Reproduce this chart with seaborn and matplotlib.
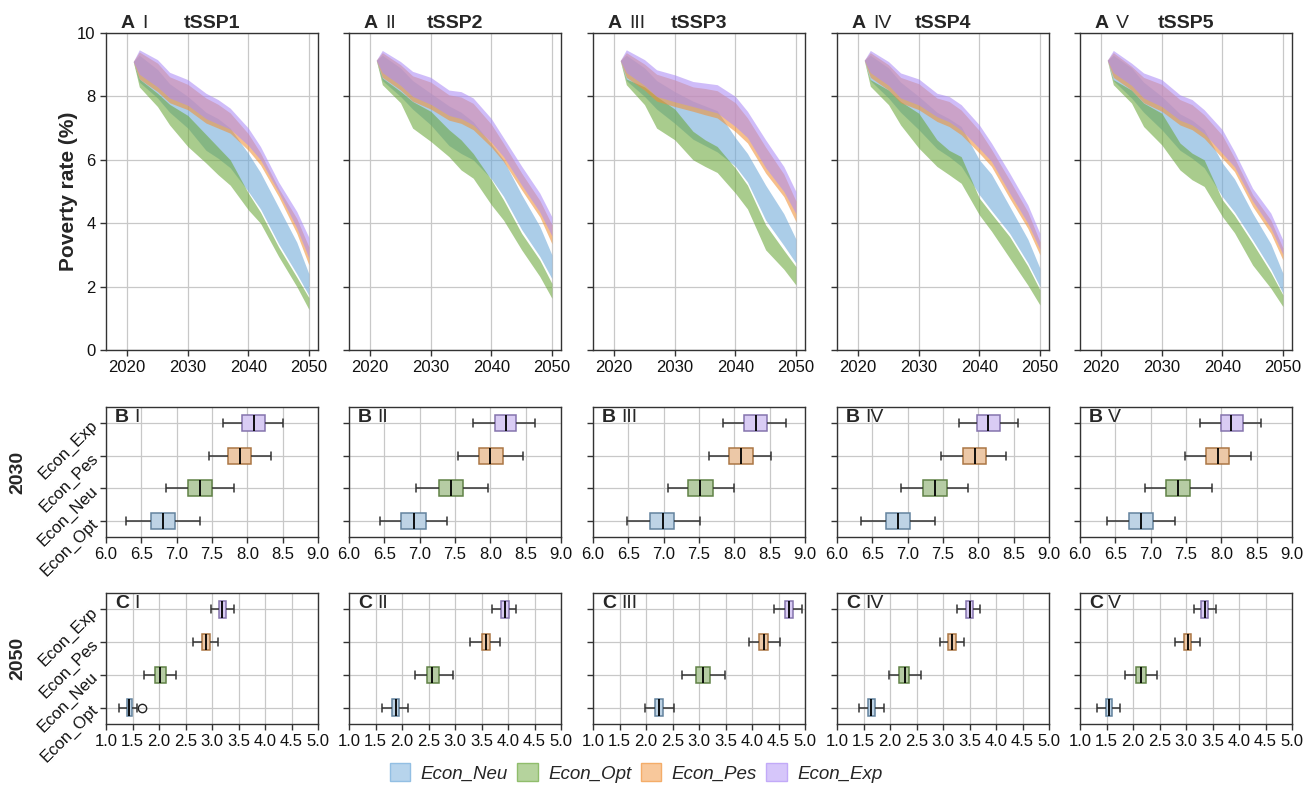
import numpy as np
import pandas as pd
import matplotlib
matplotlib.use("Agg")
import matplotlib.pyplot as plt
import seaborn as sns
from matplotlib.patches import Patch
from matplotlib.colors import to_rgb

# ---------------- data ----------------
YEARS = [2021, 2022, 2025, 2027, 2030, 2033, 2035, 2037, 2040, 2042, 2045, 2048, 2050]
PANELS = ["tSSP1", "tSSP2", "tSSP3", "tSSP4", "tSSP5"]
NUMERALS = ["I", "II", "III", "IV", "V"]
SCEN = ["Econ_Neu", "Econ_Opt", "Econ_Pes", "Econ_Exp"]

neu_low = [
    [9.10, 8.45, 7.95, 7.50, 7.00, 6.30, 6.05, 5.75, 5.00, 4.45, 3.35, 2.40, 1.72],
    [9.14, 8.50, 8.00, 7.60, 7.10, 6.45, 6.20, 6.00, 5.40, 4.85, 3.80, 2.95, 2.25],
    [9.13, 8.50, 8.00, 7.60, 7.15, 6.65, 6.45, 6.25, 5.80, 5.30, 4.10, 3.30, 2.74],
    [9.14, 8.50, 7.95, 7.50, 6.95, 6.35, 6.10, 5.80, 4.90, 4.40, 3.68, 2.75, 2.00],
    [9.14, 8.50, 7.95, 7.50, 6.95, 6.30, 6.05, 5.75, 4.84, 4.35, 3.47, 2.55, 1.79],
]
neu_high = [
    [9.10, 9.30, 8.85, 8.40, 8.00, 7.50, 7.30, 7.00, 6.20, 5.60, 4.50, 3.40, 2.40],
    [9.14, 9.30, 8.90, 8.50, 8.10, 7.70, 7.50, 7.20, 6.50, 6.00, 4.90, 3.90, 3.00],
    [9.13, 9.30, 8.90, 8.50, 8.15, 7.85, 7.70, 7.55, 6.70, 6.20, 5.20, 4.30, 3.50],
    [9.14, 9.30, 8.90, 8.45, 8.00, 7.50, 7.30, 7.05, 6.00, 5.55, 4.53, 3.50, 2.58],
    [9.14, 9.30, 8.90, 8.45, 8.00, 7.45, 7.25, 6.95, 5.90, 5.40, 4.32, 3.35, 2.42],
]
opt_low = [
    [9.10, 8.30, 7.68, 7.10, 6.42, 5.90, 5.53, 5.20, 4.42, 4.00, 2.95, 2.00, 1.28],
    [9.14, 8.37, 7.80, 7.00, 6.58, 6.10, 5.68, 5.42, 4.58, 4.10, 3.16, 2.32, 1.63],
    [9.13, 8.37, 7.74, 7.00, 6.63, 6.00, 5.79, 5.60, 4.95, 4.45, 3.16, 2.55, 2.05],
    [9.14, 8.32, 7.74, 7.10, 6.37, 5.79, 5.53, 5.26, 4.26, 3.75, 2.90, 2.05, 1.42],
    [9.14, 8.37, 7.79, 7.05, 6.47, 5.68, 5.37, 5.16, 4.21, 3.70, 2.68, 1.95, 1.37],
]
opt_high = [
    [9.10, 8.55, 8.10, 7.75, 7.40, 6.80, 6.40, 6.00, 4.95, 4.35, 3.25, 2.30, 1.65],
    [9.14, 8.58, 8.16, 7.84, 7.53, 6.95, 6.63, 6.20, 5.37, 4.74, 3.68, 2.84, 2.10],
    [9.13, 8.55, 8.30, 8.00, 7.60, 6.90, 6.63, 6.42, 5.74, 5.20, 3.95, 3.15, 2.63],
    [9.14, 8.53, 8.20, 7.84, 7.47, 6.63, 6.30, 6.10, 4.79, 4.30, 3.58, 2.65, 1.90],
    [9.14, 8.53, 8.20, 7.79, 7.47, 6.53, 6.21, 6.00, 4.74, 4.25, 3.37, 2.45, 1.74],
]
pes_low = [
    [9.10, 8.55, 8.15, 7.80, 7.58, 7.16, 7.00, 6.84, 6.30, 5.84, 4.84, 3.68, 2.68],
    [9.14, 8.60, 8.20, 7.85, 7.60, 7.25, 7.15, 6.95, 6.40, 5.95, 5.05, 4.20, 3.35],
    [9.13, 8.60, 8.20, 7.85, 7.68, 7.53, 7.42, 7.32, 6.89, 6.53, 5.58, 4.84, 4.05],
    [9.14, 8.60, 8.20, 7.80, 7.58, 7.21, 7.05, 6.79, 6.21, 5.79, 4.79, 3.84, 3.00],
    [9.14, 8.60, 8.20, 7.80, 7.53, 7.10, 6.95, 6.68, 6.05, 5.63, 4.53, 3.68, 2.84],
]
pes_high = [
    [9.10, 9.40, 9.05, 8.62, 8.38, 7.95, 7.75, 7.48, 6.82, 6.22, 5.10, 4.15, 3.25],
    [9.14, 9.38, 9.00, 8.65, 8.45, 8.05, 7.98, 7.78, 7.12, 6.52, 5.58, 4.72, 3.95],
    [9.13, 9.38, 9.02, 8.70, 8.52, 8.30, 8.25, 8.18, 7.80, 7.32, 6.40, 5.55, 4.70],
    [9.14, 9.38, 9.00, 8.60, 8.40, 7.95, 7.84, 7.57, 6.92, 6.33, 5.36, 4.36, 3.42],
    [9.14, 9.38, 8.95, 8.60, 8.38, 7.90, 7.74, 7.42, 6.77, 6.06, 4.90, 4.10, 3.22],
]
exp_low = [
    [9.10, 8.70, 8.30, 7.95, 7.72, 7.30, 7.13, 6.97, 6.45, 6.00, 4.98, 3.85, 2.90],
    [9.14, 8.75, 8.35, 8.00, 7.75, 7.40, 7.30, 7.10, 6.55, 6.10, 5.20, 4.35, 3.60],
    [9.13, 8.75, 8.35, 8.00, 7.83, 7.68, 7.58, 7.48, 7.05, 6.70, 5.75, 5.00, 4.30],
    [9.14, 8.75, 8.35, 7.95, 7.73, 7.36, 7.20, 6.94, 6.36, 5.95, 4.95, 4.00, 3.18],
    [9.14, 8.75, 8.35, 7.95, 7.68, 7.25, 7.10, 6.83, 6.20, 5.78, 4.70, 3.85, 3.02],
]
exp_high = [
    [9.10, 9.47, 9.16, 8.76, 8.53, 8.10, 7.90, 7.63, 7.00, 6.42, 5.30, 4.37, 3.55],
    [9.14, 9.45, 9.10, 8.79, 8.60, 8.20, 8.15, 7.95, 7.30, 6.70, 5.80, 4.95, 4.20],
    [9.13, 9.47, 9.16, 8.84, 8.68, 8.47, 8.42, 8.37, 8.00, 7.53, 6.63, 5.79, 5.00],
    [9.14, 9.45, 9.10, 8.74, 8.55, 8.10, 8.00, 7.74, 7.10, 6.53, 5.58, 4.58, 3.68],
    [9.14, 9.45, 9.05, 8.74, 8.53, 8.05, 7.90, 7.58, 6.95, 6.26, 5.10, 4.32, 3.47],
]

# box plot rows (top to bottom) and five-number summaries [low whisker, Q1, median, Q3, high whisker]
BOX_ROWS = ["Econ_Exp", "Econ_Pes", "Econ_Neu", "Econ_Opt"]
box2030 = {
    "Econ_Exp": [[7.65, 7.93, 8.10, 8.25, 8.51], [7.76, 8.06, 8.22, 8.36, 8.63], [7.84, 8.14, 8.30, 8.46, 8.73],
                 [7.73, 7.98, 8.14, 8.30, 8.56], [7.70, 7.99, 8.14, 8.30, 8.56]],
    "Econ_Pes": [[7.46, 7.73, 7.89, 8.05, 8.33], [7.54, 7.84, 8.00, 8.18, 8.46], [7.64, 7.93, 8.09, 8.26, 8.52],
                 [7.47, 7.78, 7.95, 8.11, 8.39], [7.48, 7.78, 7.95, 8.11, 8.42]],
    "Econ_Neu": [[6.85, 7.16, 7.33, 7.50, 7.81], [6.95, 7.28, 7.44, 7.62, 7.96], [7.06, 7.35, 7.51, 7.70, 8.00],
                 [6.90, 7.22, 7.39, 7.56, 7.85], [6.92, 7.22, 7.38, 7.55, 7.87]],
    "Econ_Opt": [[6.29, 6.64, 6.80, 6.97, 7.33], [6.44, 6.74, 6.92, 7.09, 7.38], [6.48, 6.81, 6.99, 7.15, 7.51],
                 [6.34, 6.70, 6.86, 7.03, 7.38], [6.38, 6.70, 6.86, 7.03, 7.35]],
}
box2050 = {
    "Econ_Exp": [[2.99, 3.13, 3.19, 3.26, 3.41], [3.69, 3.87, 3.94, 4.02, 4.16], [4.42, 4.62, 4.69, 4.77, 4.95],
                 [3.27, 3.44, 3.51, 3.56, 3.70], [3.15, 3.28, 3.36, 3.42, 3.56]],
    "Econ_Pes": [[2.64, 2.82, 2.89, 2.96, 3.11], [3.29, 3.50, 3.58, 3.66, 3.85], [3.94, 4.14, 4.22, 4.31, 4.53],
                 [2.94, 3.10, 3.17, 3.24, 3.40], [2.79, 2.97, 3.03, 3.10, 3.26]],
    "Econ_Neu": [[1.71, 1.93, 2.02, 2.13, 2.32], [2.25, 2.47, 2.57, 2.69, 2.97], [2.67, 2.94, 3.07, 3.20, 3.49],
                 [1.99, 2.17, 2.28, 2.36, 2.58], [1.85, 2.06, 2.15, 2.24, 2.45]],
    "Econ_Opt": [[1.25, 1.39, 1.44, 1.49, 1.58], [1.63, 1.81, 1.88, 1.94, 2.11], [1.98, 2.17, 2.25, 2.33, 2.52],
                 [1.42, 1.59, 1.64, 1.71, 1.88], [1.33, 1.49, 1.54, 1.60, 1.75]],
}
fliers2050 = {("Econ_Opt", 0): [1.68]}

B_TICKS = [6.0, 6.5, 7.0, 7.5, 8.0, 8.5, 9.0]
C_TICKS = [1.0, 1.5, 2.0, 2.5, 3.0, 3.5, 4.0, 4.5, 5.0]
A_XTICKS = [2020, 2030, 2040, 2050]
A_YTICKS = [0, 2, 4, 6, 8, 10]

# ---------------- style ----------------
BASE = {"Econ_Neu": "#6fa9d9", "Econ_Opt": "#6ba73b", "Econ_Pes": "#f19137", "Econ_Exp": "#ad8df5"}
BOX_COLORS = {"Econ_Exp": BASE["Econ_Exp"], "Econ_Pes": BASE["Econ_Pes"],
              "Econ_Neu": BASE["Econ_Opt"], "Econ_Opt": BASE["Econ_Neu"]}


def light(c, a=0.5):
    r = np.array(to_rgb(c))
    return tuple(1 - a + a * r)


def edge(c):
    r = np.array(to_rgb(c))
    return tuple(0.55 * r + 0.45 * np.array(to_rgb("#555555")))


sns.set_theme(style="whitegrid", rc={
    "axes.edgecolor": "#333333", "axes.linewidth": 1.0,
    "grid.color": "#c8c8c8", "grid.linewidth": 0.9,
    "xtick.bottom": True, "ytick.left": True,
    "xtick.major.size": 4, "ytick.major.size": 4,
    "xtick.major.width": 1.0, "ytick.major.width": 1.0,
    "xtick.color": "#333333", "ytick.color": "#333333",
    "xtick.labelcolor": "#111111", "ytick.labelcolor": "#111111",
    "xtick.labelsize": 12, "ytick.labelsize": 12,
})
plt.rcParams["font.family"] = ["Liberation Sans", "DejaVu Sans"]

W, H = 1312, 794
fig = plt.figure(figsize=(W / 100, H / 100), dpi=100)

LEFTS = [106, 349, 593, 837, 1080]
AW = 212


def add_ax(left, top, bottom):
    return fig.add_axes([left / W, 1 - bottom / H, AW / W, (bottom - top) / H])


# ---- row A ----
bounds = {"Econ_Neu": (neu_low, neu_high), "Econ_Opt": (opt_low, opt_high),
          "Econ_Pes": (pes_low, pes_high), "Econ_Exp": (exp_low, exp_high)}
AH = 317
for i, panel in enumerate(PANELS):
    ax = add_ax(LEFTS[i], 33, 350)
    rows = []
    for s in SCEN:
        lo, hi = bounds[s]
        for y, a, b in zip(YEARS, lo[i], hi[i]):
            rows.append((y, a, s))
            rows.append((y, b, s))
    df = pd.DataFrame(rows, columns=["year", "rate", "scen"])
    sns.lineplot(data=df, x="year", y="rate", hue="scen", hue_order=SCEN, palette=BASE,
                 errorbar=("pi", 100), err_kws={"alpha": 0.58, "linewidth": 0},
                 linewidth=0, legend=False, ax=ax)
    ax.set_xlim(2016.5, 2051.5)
    ax.set_ylim(0, 10)
    ax.set_xticks(A_XTICKS)
    ax.set_yticks(A_YTICKS)
    ax.set_xlabel("")
    ax.set_ylabel("")
    if i > 0:
        ax.set_yticklabels([])
    ty = 1 + 5 / AH
    ax.text(0.5, ty, panel, transform=ax.transAxes, fontsize=14, fontweight="bold",
            va="baseline", ha="center")
    ax.text(15 / AW, ty, "A", transform=ax.transAxes, fontsize=14,
            fontweight="bold", va="baseline", ha="left")
    ax.text(36 / AW, ty, NUMERALS[i], transform=ax.transAxes, fontsize=14,
            va="baseline", ha="left")
    for sp in ax.spines.values():
        sp.set_visible(True)


# ---- rows B and C ----
def box_panel(ax, stats, i, fliers, ticks, letter):
    rows = []
    for s in BOX_ROWS:
        lo, q1, md, q3, hi = stats[s][i]
        fl = fliers.get((s, i), [])
        if fl:
            vals = [lo, q1, q1, q1, md, md, q3, q3, hi] + fl
        else:
            vals = [lo, q1, q1, q1, md, q3, q3, q3, hi]
        rows += [(v, s) for v in vals]
    df = pd.DataFrame(rows, columns=["val", "scen"])
    pal = {s: light(BOX_COLORS[s], 0.5) for s in BOX_ROWS}
    sns.boxplot(data=df, x="val", y="scen", hue="scen", order=BOX_ROWS, hue_order=BOX_ROWS,
                palette=pal, orient="h", width=0.5, linewidth=1.1, linecolor="#333333",
                medianprops={"color": "black", "linewidth": 1.3},
                flierprops={"marker": "o", "markerfacecolor": "none", "markeredgecolor": "#222222",
                            "markersize": 6},
                legend=False, ax=ax)
    for p, s in zip(ax.patches, BOX_ROWS):
        p.set_edgecolor(edge(BOX_COLORS[s]))
    ax.set_xlim(ticks[0], ticks[-1])
    ax.set_xticks(ticks)
    ax.set_xticklabels([f"{t:.1f}" for t in ticks])
    ax.set_xlabel("")
    ax.set_ylabel("")
    ax.grid(True, axis="both")
    ax.set_axisbelow(True)
    ax.set_yticks(range(4))
    if i == 0:
        ax.set_yticklabels(BOX_ROWS, rotation=45, ha="right", va="center", rotation_mode="anchor")
    else:
        ax.set_yticklabels([])
    ax.text(9 / AW, 1 - 15 / 130, letter, transform=ax.transAxes, fontsize=14,
            fontweight="bold", va="baseline", ha="left")
    ax.text(28 / AW, 1 - 15 / 130, NUMERALS[i], transform=ax.transAxes, fontsize=14,
            va="baseline", ha="left")
    for sp in ax.spines.values():
        sp.set_visible(True)


for i in range(5):
    axb = add_ax(LEFTS[i], 407, 537)
    box_panel(axb, box2030, i, {}, B_TICKS, "B")
    axc = add_ax(LEFTS[i], 593, 724)
    box_panel(axc, box2050, i, fliers2050, C_TICKS, "C")

# ---- side labels ----
fig.text(68 / W, 1 - 191 / H, "Poverty rate (%)", rotation=90, fontsize=15, fontweight="bold",
         ha="center", va="center")
fig.text(18 / W, 1 - 472 / H, "2030", rotation=90, fontsize=14, fontweight="bold",
         ha="center", va="center")
fig.text(18 / W, 1 - 658 / H, "2050", rotation=90, fontsize=14, fontweight="bold",
         ha="center", va="center")

# ---- legend ----
handles = [Patch(facecolor=light(BASE[s], 0.5), edgecolor=light(BASE[s], 0.75), label=s) for s in SCEN]
fig.legend(handles=handles, loc="center", bbox_to_anchor=(636 / W, 1 - 773 / H), ncol=4,
           frameon=False, prop={"style": "italic", "size": 13.5}, handlelength=1.1, handleheight=1.1,
           handletextpad=0.55, columnspacing=0.5)

fig.savefig("out.png", dpi=100)
